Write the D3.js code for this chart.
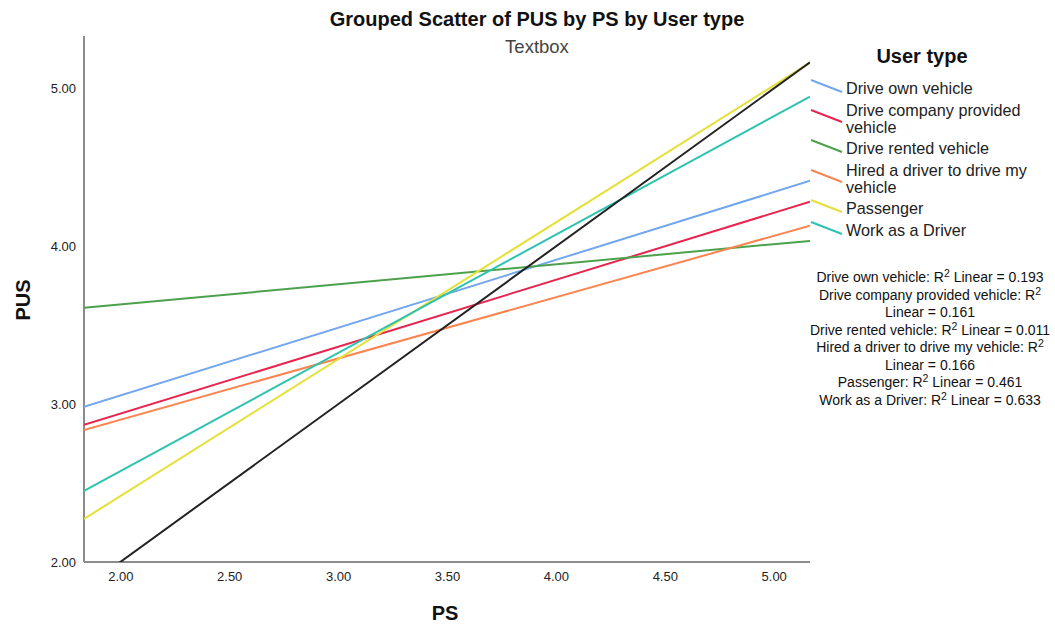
<!DOCTYPE html>
<html>
<head>
<meta charset="utf-8">
<script src="https://cdn.jsdelivr.net/npm/d3@7"></script>
<style>
  html, body { margin: 0; padding: 0; background: #fff; }
  svg { display: block; font-family: "Liberation Sans", Arial, sans-serif; }
  .tick-label { font-family: "Liberation Sans Narrow", "Liberation Sans", Arial, sans-serif; font-size: 13px; fill: #222; }
</style>
</head>
<body>
<svg id="chart" width="1055" height="625"></svg>
<script>
// User type groups and their fitted linear regression lines (PUS on PS)
const userTypes = [
  "Drive own vehicle",
  "Drive company provided vehicle",
  "Drive rented vehicle",
  "Hired a driver to drive my vehicle",
  "Passenger",
  "Work as a Driver"
];
const legendLines = [
  ["Drive own vehicle"],
  ["Drive company provided", "vehicle"],
  ["Drive rented vehicle"],
  ["Hired a driver to drive my", "vehicle"],
  ["Passenger"],
  ["Work as a Driver"]
];
const colors = ["#72a6ee", "#e8254f", "#4ca24c", "#fb8550", "#e4e035", "#2dc3af"];
// PS values at the two ends of the x range
const psRange = [1.8333, 5.1667];
// fitted PUS at the left and right ends of the PS range
const fitLeft  = [2.983, 2.869, 3.611, 2.837, 2.273, 2.450];
const fitRight = [4.416, 4.283, 4.035, 4.131, 5.164, 4.949];
const rSquared = [0.193, 0.161, 0.011, 0.166, 0.461, 0.633];
// reference line PUS = PS
const refLine = [[1.8333, 1.8333], [5.1667, 5.1667]];

const xTicks = [2.0, 2.5, 3.0, 3.5, 4.0, 4.5, 5.0];
const yTicks = [2.0, 3.0, 4.0, 5.0];

// R² annotation text, wrapped as in the output box
const r2Lines = [
  [["Drive own vehicle: R", "2", " Linear = " + rSquared[0].toFixed(3)]],
  [["Drive company provided vehicle: R", "2", ""]],
  [["Linear = " + rSquared[1].toFixed(3)]],
  [["Drive rented vehicle: R", "2", " Linear = " + rSquared[2].toFixed(3)]],
  [["Hired a driver to drive my vehicle: R", "2", ""]],
  [["Linear = " + rSquared[3].toFixed(3)]],
  [["Passenger: R", "2", " Linear = " + rSquared[4].toFixed(3)]],
  [["Work as a Driver: R", "2", " Linear = " + rSquared[5].toFixed(3)]]
];

const svg = d3.select("#chart");
const plot = { left: 84, right: 810, top: 36, bottom: 562 };

const x = d3.scaleLinear().domain(psRange).range([plot.left, plot.right]);
const y = d3.scaleLinear().domain([2.0, 5.3333]).range([plot.bottom, plot.top]);

svg.append("defs").append("clipPath").attr("id", "plot-clip")
  .append("rect")
  .attr("x", plot.left).attr("y", plot.top)
  .attr("width", plot.right - plot.left).attr("height", plot.bottom - plot.top);

// Title and subtitle
svg.append("text").attr("x", 537).attr("y", 26).attr("text-anchor", "middle")
  .style("font-size", "20px").style("font-weight", "bold").attr("fill", "#111")
  .text("Grouped Scatter of PUS by PS by User type");
svg.append("text").attr("x", 537).attr("y", 53).attr("text-anchor", "middle")
  .style("font-size", "18.5px").attr("fill", "#444")
  .text("Textbox");

// Axes
const xAxis = svg.append("g").attr("transform", `translate(0,${plot.bottom})`)
  .call(d3.axisBottom(x).tickValues(xTicks).tickFormat(d3.format(".2f")).tickSize(0).tickPadding(10));
const yAxis = svg.append("g").attr("transform", `translate(${plot.left},0)`)
  .call(d3.axisLeft(y).tickValues(yTicks).tickFormat(d3.format(".2f")).tickSize(0).tickPadding(8));
[xAxis, yAxis].forEach(g => {
  g.select(".domain").attr("stroke", "#8c8c8c").attr("stroke-width", 2);
  g.selectAll("text").attr("class", "tick-label").attr("fill", "#222");
});
yAxis.select(".domain").attr("d", `M0,${plot.top}V${plot.bottom}`);
xAxis.select(".domain").attr("d", `M${plot.left},0H${plot.right}`);

// Axis titles
svg.append("text").attr("x", x(3.5) - 2).attr("y", 620).attr("text-anchor", "middle")
  .style("font-size", "20px").style("font-weight", "bold").attr("fill", "#111").text("PS");
svg.append("text").attr("transform", `translate(30,${(plot.top + plot.bottom) / 2 + 1}) rotate(-90)`)
  .attr("text-anchor", "middle")
  .style("font-size", "20px").style("font-weight", "bold").attr("fill", "#111").text("PUS");

// Fit lines
const line = d3.line().x(d => x(d[0])).y(d => y(d[1]));
const lines = svg.append("g").attr("clip-path", "url(#plot-clip)");
userTypes.forEach((name, i) => {
  lines.append("path")
    .datum([[psRange[0], fitLeft[i]], [psRange[1], fitRight[i]]])
    .attr("d", line).attr("fill", "none")
    .attr("stroke", colors[i]).attr("stroke-width", 2);
});
lines.append("path").datum(refLine).attr("d", line).attr("fill", "none")
  .attr("stroke", "#222").attr("stroke-width", 2);

// Legend
svg.append("text").attr("x", 922).attr("y", 63).attr("text-anchor", "middle")
  .style("font-size", "20px").style("font-weight", "bold").attr("fill", "#111").text("User type");
const legendRows = [88, 118, 148, 178, 208, 230];
const legend = svg.append("g");
legendLines.forEach((rows, i) => {
  const cy = legendRows[i];
  legend.append("line")
    .attr("x1", 811).attr("y1", cy - 8).attr("x2", 842).attr("y2", cy + 4)
    .attr("stroke", colors[i]).attr("stroke-width", 2);
  const t = legend.append("text").attr("x", 846).style("font-size", "16.2px").attr("fill", "#222");
  const top = rows.length === 1 ? cy + 5.5 : cy - 2.5;
  rows.forEach((r, k) => {
    t.append("tspan").attr("x", 846).attr("y", top + k * 17).text(r);
  });
});

// R² annotations
const r2 = svg.append("g");
r2Lines.forEach((parts, i) => {
  const t = r2.append("text").attr("x", 930).attr("y", 282 + i * 17.5)
    .attr("text-anchor", "middle").style("font-size", "14px").attr("fill", "#111");
  parts.forEach(p => {
    t.append("tspan").text(p[0]);
    if (p[1]) {
      t.append("tspan").attr("dy", -5).style("font-size", "10.5px").text(p[1]);
      t.append("tspan").attr("dy", 5).text(p[2]);
    }
  });
});
</script>
</body>
</html>
